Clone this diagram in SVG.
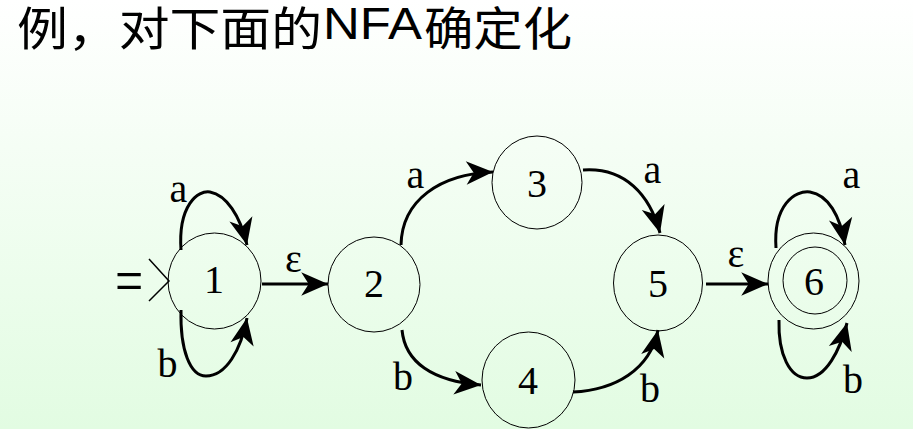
<svg xmlns="http://www.w3.org/2000/svg" width="913" height="429" viewBox="0 0 913 429">
  <defs>
    <linearGradient id="bg" x1="0" y1="0" x2="0" y2="1">
      <stop offset="0" stop-color="#ffffff"/>
      <stop offset="1" stop-color="#e2fce2"/>
    </linearGradient>
    <marker id="arr" markerUnits="userSpaceOnUse" markerWidth="30" markerHeight="30" viewBox="-26 -13 28 26" refX="0" refY="0" orient="auto">
      <path d="M0,0 L-25,-11 L-18,0 L-25,11 Z" fill="#000"/>
    </marker>
    <style>
      .node { fill: none; stroke: #000; stroke-width: 1; }
      .lbl { font-family: "Liberation Serif", "Times New Roman", serif; font-size: 40px; fill: #000; text-anchor: middle; }
      .edge { fill: none; stroke: #000; stroke-width: 3; marker-end: url(#arr); }
      .cjk { font-family: "Noto Sans CJK SC", "Noto Sans CJK JP", sans-serif; font-size: 46px; fill: #000; }
      .lat { font-family: "Liberation Sans", Arial, sans-serif; font-size: 44px; fill: #000; }
    </style>
  </defs>
  <rect x="0" y="0" width="913" height="429" fill="url(#bg)"/>

  <g id="title">
    <text class="cjk" x="17" y="45" textLength="305" lengthAdjust="spacingAndGlyphs">例，对下面的</text>
    <text class="lat" x="323" y="39" textLength="99" lengthAdjust="spacingAndGlyphs">NFA</text>
    <text class="cjk" x="424" y="45" textLength="148" lengthAdjust="spacingAndGlyphs">确定化</text>
  </g>

  <g id="start">
    <text transform="translate(115,302) scale(1.25,1.6)" x="0" y="0" style="font-family: 'Liberation Serif', 'Times New Roman', serif; font-size: 40px;">=</text>
    <polyline points="149,259 169,281 149,301" fill="none" stroke="#000" stroke-width="1.5"/>
  </g>

  <g id="n1">
    <ellipse class="node" cx="214.5" cy="281" rx="46.5" ry="48"/>
    <text class="lbl" x="214" y="293">1</text>
  </g>
  <g id="n2">
    <ellipse class="node" cx="374" cy="284.5" rx="46" ry="47.5"/>
    <text class="lbl" x="374" y="297">2</text>
  </g>
  <g id="n3">
    <ellipse class="node" cx="537" cy="182.5" rx="45" ry="46.5"/>
    <text class="lbl" x="537" y="197">3</text>
  </g>
  <g id="n4">
    <ellipse class="node" cx="528.5" cy="380" rx="46.5" ry="48"/>
    <text class="lbl" x="528" y="394">4</text>
  </g>
  <g id="n5">
    <ellipse class="node" cx="658" cy="283" rx="44.5" ry="48"/>
    <text class="lbl" x="658" y="297">5</text>
  </g>
  <g id="n6">
    <ellipse class="node" cx="813.5" cy="281" rx="45.5" ry="48"/>
    <ellipse class="node" cx="815" cy="280.5" rx="32" ry="33.5"/>
    <text class="lbl" x="814" y="295">6</text>
  </g>

  <g id="connectors">
    <path class="edge" d="M181,250 C178,205 198,190 210,192 C226,195 240,215 247,245"/>
    <path class="edge" d="M181,310 C180,350 190,376 206,376 C226,376 241,350 247,318"/>
    <path class="edge" d="M262,284 L328,284"/>
    <path class="edge" d="M401,245 C402,200 440,174 493,172"/>
    <path class="edge" d="M583,170 C625,167 650,195 660,233"/>
    <path class="edge" d="M402,330 C405,362 432,381 481,385"/>
    <path class="edge" d="M573,392 C615,390 650,370 658,330"/>
    <path class="edge" d="M706,284 L768,284"/>
    <path class="edge" d="M776,248 C773,205 795,190 810,192 C828,195 840,215 845,245"/>
    <path class="edge" d="M779,320 C778,355 790,378 807,378 C826,378 840,350 847,323"/>
  </g>

  <g id="labels">
    <text class="lbl" x="178.5" y="202">a</text>
    <text class="lbl" x="167.5" y="377">b</text>
    <text class="lbl" x="293.5" y="272">ε</text>
    <text class="lbl" x="415.5" y="188">a</text>
    <text class="lbl" x="652.5" y="183">a</text>
    <text class="lbl" x="403" y="390">b</text>
    <text class="lbl" x="650" y="402">b</text>
    <text class="lbl" x="736" y="267">ε</text>
    <text class="lbl" x="851.5" y="188">a</text>
    <text class="lbl" x="853" y="393">b</text>
  </g>
</svg>
